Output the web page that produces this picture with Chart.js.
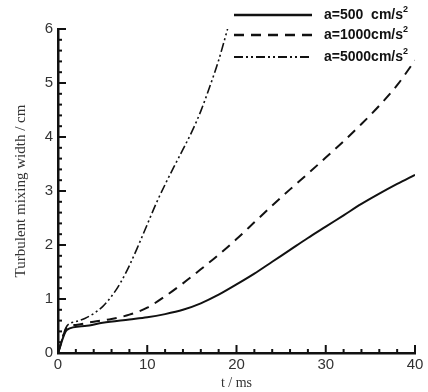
<!DOCTYPE html>
<html>
<head>
<meta charset="utf-8">
<script src="https://cdn.jsdelivr.net/npm/chart.js@4/dist/chart.umd.min.js"></script>
<style>
	body{margin:0;background:#fff;}
	#wrap{position:relative;width:428px;height:392px;}
	#legend{position:absolute;left:232px;top:5px;font:bold 14px "Liberation Sans",Arial,sans-serif;color:#111;}
	.row{position:absolute;left:0;height:20px;white-space:pre;}
	.row svg{position:absolute;left:0;top:0;}
	.row span{position:absolute;left:92px;top:1px;}
	sup{font-size:9px;vertical-align:7px;line-height:0;}
</style>
</head>
<body>
<div id="wrap">
	<canvas id="plot" width="428" height="392"></canvas>
	<div id="legend"></div>
</div>
<script>
// values
var labels=["a=500  cm/s","a=1000cm/s","a=5000cm/s"];
var t500 =[0,1,3,5,8,10,12,14,16,18,20,22,24,26,28,30,32,34,36,38,40];
var w500 =[0,0.43,0.5,0.56,0.62,0.66,0.72,0.8,0.92,1.08,1.27,1.47,1.69,1.91,2.13,2.34,2.55,2.76,2.95,3.13,3.3];
var t1000=[0,1,2,4,6,8,10,12,14,16,18,20,22,24,26,28,30,32,34,36,38,40];
var w1000=[0,0.47,0.52,0.58,0.63,0.71,0.84,1.05,1.29,1.55,1.82,2.11,2.42,2.73,3.03,3.32,3.62,3.92,4.24,4.58,4.96,5.42];
var t5000=[0,1,2,3,4,5,6,7,8,9,10,11,12,13,14,15,16,17,18,19];
var w5000=[0,0.5,0.58,0.64,0.73,0.86,1.05,1.3,1.62,1.99,2.38,2.77,3.12,3.45,3.77,4.1,4.48,4.93,5.42,6.0];

var dashes=[[],[10,7],[9,3,2,3,2,3]];
var widths=[2,2,1.6];

function pts(t,w){return t.map(function(v,i){return {x:v,y:w[i]};});}

// legend as html
var leg=document.getElementById("legend");
var ys=[0,20,42];
for (var i=0;i<labels.length;i++){
	var r=document.createElement("div");
	r.className="row";
	r.style.top=ys[i]+"px";
	r.innerHTML='<svg width="82" height="20"><line x1="2" y1="10" x2="80" y2="10" stroke="#111" stroke-width="'+(widths[i]+0.5)+'" stroke-dasharray="'+(dashes[i].join(",")||"none")+'"/></svg><span>'+labels[i]+'<sup>2</sup></span>';
	leg.appendChild(r);
}

// inward tick marks
var inTicks={
	id:"inTicks",
	afterDraw:function(chart){
		var ctx=chart.ctx, x=chart.scales.x, y=chart.scales.y;
		ctx.save();
		ctx.strokeStyle="#111";
		ctx.lineWidth=2;
		x.ticks.forEach(function(tk){
			var px=x.getPixelForValue(tk.value);
			var len=(Math.abs(tk.value%10)<1e-6)?8:4;
			ctx.beginPath();ctx.moveTo(px,x.top);ctx.lineTo(px,x.top-len);ctx.stroke();
		});
		y.ticks.forEach(function(tk){
			var py=y.getPixelForValue(tk.value);
			var len=(Math.abs(tk.value-Math.round(tk.value))<1e-6)?8:4;
			ctx.beginPath();ctx.moveTo(y.right,py);ctx.lineTo(y.right+len,py);ctx.stroke();
		});
		ctx.restore();
	}
};

var ds=[pts(t500,w500),pts(t1000,w1000),pts(t5000,w5000)].map(function(d,i){
	return {label:labels[i],data:d,showLine:true,pointRadius:0,borderColor:"#111",
		borderWidth:widths[i],borderDash:dashes[i],cubicInterpolationMode:"monotone",fill:false};
});

new Chart(document.getElementById("plot"),{
	type:"scatter",
	data:{datasets:ds},
	options:{
		responsive:false,
		animation:false,
		layout:{padding:{left:0,top:29,right:13,bottom:0}},
		plugins:{legend:{display:false},tooltip:{enabled:false}},
		scales:{
			x:{
				type:"linear",min:0,max:40,
				afterFit:function(s){s.height=39;},
				grid:{drawOnChartArea:false,drawTicks:false},
				border:{display:true,color:"#111",width:2.5},
				ticks:{stepSize:2,autoSkip:false,maxRotation:0,padding:3,color:"#333",
					font:{family:"'Liberation Sans', Arial, sans-serif",size:15},
					callback:function(v){return (Math.abs(v%10)<1e-6)?v:"";}},
				title:{display:true,text:"t / ms",color:"#333",padding:{top:0,bottom:0},
					font:{family:"'Liberation Serif','Times New Roman',serif",size:14}}
			},
			y:{
				type:"linear",min:0,max:6,
				afterFit:function(s){s.width=58;},
				grid:{drawOnChartArea:false,drawTicks:false},
				border:{display:true,color:"#111",width:2.5},
				ticks:{stepSize:0.2,autoSkip:false,padding:5,color:"#333",
					font:{family:"'Liberation Sans', Arial, sans-serif",size:15},
					callback:function(v){return (Math.abs(v-Math.round(v))<1e-6)?Math.round(v):"";}},
				title:{display:true,text:"Turbulent mixing width / cm",color:"#333",padding:{top:12,bottom:0},
					font:{family:"'Liberation Serif','Times New Roman',serif",size:15}}
			}
		}
	},
	plugins:[inTicks]
});
</script>
</body>
</html>
